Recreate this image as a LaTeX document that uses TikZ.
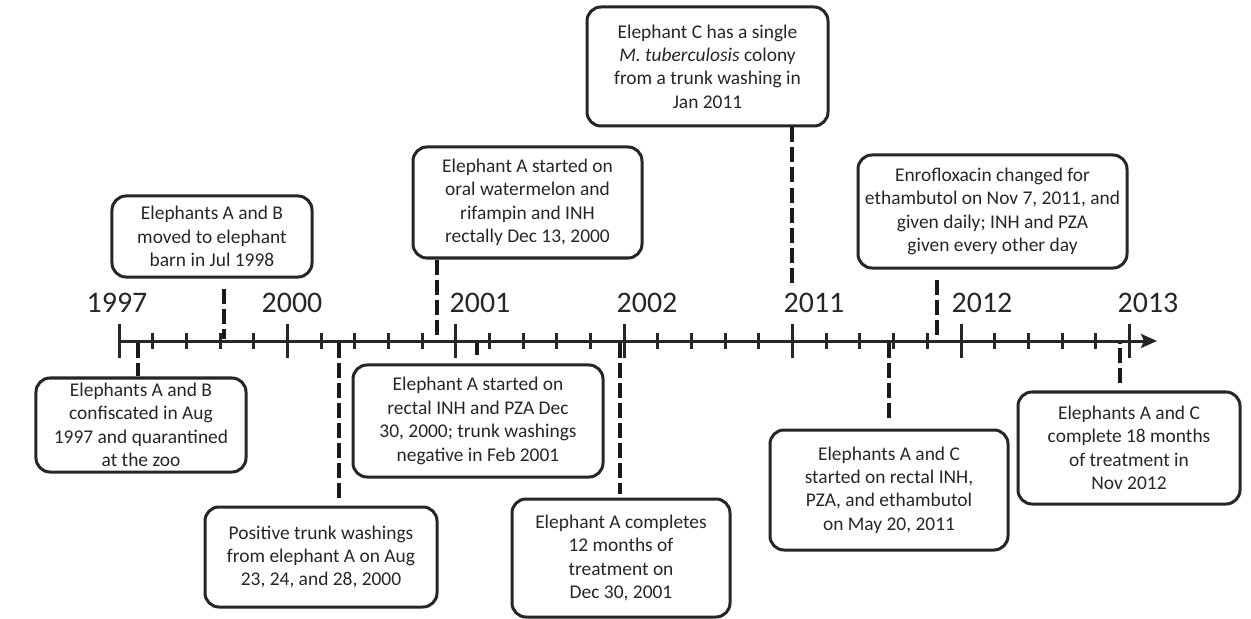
\documentclass[tikz,border=0pt]{standalone}
\usepackage{fontspec}
\setmainfont{Carlito}
\usetikzlibrary{arrows.meta,positioning}
\tikzset{
    %Define standard arrow tip
    >={Stealth[length=16bp,width=14bp,inset=3bp]},
    %Define style for event boxes
    evbox/.style={
           draw=black!85, line width=3bp,
           rounded corners=14bp,
           align=center,
           inner sep=0pt,
           text=black!85,
           font=\fontsize{19.5}{23.5}\selectfont},
    %Define style for year labels
    yearlbl/.style={
           anchor=base,
           text=black!85,
           font=\fontsize{30}{34}\selectfont},
    % Define connector style
    evline/.style={
           draw=black!90,
           line width=4.5bp,
           dash pattern=on 15bp off 5bp},
    axisline/.style={
           draw=black!85,
           line width=3bp}
}
\begin{document}
\begin{tikzpicture}[x=1bp,y=-1bp]
\useasboundingbox (0,0) rectangle (1251,619);
 %axis
\coordinate (start) at (119,341);
\coordinate (tip) at (1157,341);
\draw[axisline,->] (start) -- (tip);
\foreach \i in {0,...,30}{
  \pgfmathsetmacro{\tx}{119+\i*33.68}
  \pgfmathparse{mod(\i,5)==0 ? 1 : 0}
  \ifnum\pgfmathresult=1
    \draw[axisline] (\tx,324) -- (\tx,358);
  \else
    \draw[axisline] (\tx,333) -- (\tx,349);
  \fi
}
 %years
\node[yearlbl](y1997) at (117,313){1997};
\node[yearlbl](y2000) at (292,313){2000};
\node[yearlbl](y2001) at (480,313){2001};
\node[yearlbl](y2002) at (647,313){2002};
\node[yearlbl](y2011) at (814,313){2011};
\node[yearlbl](y2012) at (982,313){2012};
\node[yearlbl](y2013) at (1148,313){2013};
 %events on the axis
\coordinate (e1) at (138,343);
\coordinate (e2) at (224,339);
\coordinate (e3) at (339,343);
\coordinate (e4) at (437,339);
\coordinate (e5) at (477,343);
\coordinate (e6) at (620,343);
\coordinate (e7) at (792,339);
\coordinate (e8) at (889,343);
\coordinate (e9) at (937,339);
\coordinate (e10) at (1120,343);
 %boxes
\node[evbox, minimum width=210bp, minimum height=94bp](b1) at (141,425)
  {Elephants A and B\\confiscated in Aug\\1997 and quarantined\\at the zoo};
\node[evbox, minimum width=200bp, minimum height=81bp](b2) at (212,236.5)
  {Elephants A and B\\moved to elephant\\barn in Jul 1998};
\node[evbox, minimum width=232bp, minimum height=100bp](b3) at (321,557)
  {Positive trunk washings\\from elephant A on Aug\\23, 24, and 28, 2000};
\node[evbox, minimum width=229bp, minimum height=111bp](b4) at (527.5,202.5)
  {Elephant A started on\\oral watermelon and\\rifampin and INH\\rectally Dec 13, 2000};
\node[evbox, minimum width=250bp, minimum height=112bp](b5) at (478,421)
  {Elephant A started on\\rectal INH and PZA Dec\\30, 2000; trunk washings\\negative in Feb 2001};
\node[evbox, minimum width=218bp, minimum height=118bp](b6) at (621,558)
  {Elephant A completes\\12 months of\\treatment on\\Dec 30, 2001};
\node[evbox, minimum width=241bp, minimum height=119bp](b7) at (707.5,66.5)
  {Elephant C has a single\\\textit{M. tuberculosis} colony\\from a trunk washing in\\Jan 2011};
\node[evbox, minimum width=238bp, minimum height=120bp](b8) at (889,490)
  {Elephants A and C\\started on rectal INH,\\PZA, and ethambutol\\on May 20, 2011};
\node[evbox, minimum width=269bp, minimum height=113bp](b9) at (992.5,211.5)
  {Enrofloxacin changed for\\ethambutol on Nov 7, 2011, and\\given daily; INH and PZA\\given every other day};
\node[evbox, minimum width=222bp, minimum height=112bp](b10) at (1129,448)
  {Elephants A and C\\complete 18 months\\of treatment in\\Nov 2012};
 %connectors (yshift is upward on the page)
\path[evline]
    (e1) -- (b1.north -| e1)
    ([yshift=-10bp]b2.south -| e2) -- (e2)
    (e3) -- ([yshift=4bp]b3.north -| e3)
    (b4.south -| e4) -- (e4)
    (e5) -- ([yshift=8bp]b5.north -| e5)
    (e6) -- ([yshift=4bp]b6.north -| e6)
    (b7.south -| e7) -- ([yshift=54bp]e7)
    (e8) -- ([yshift=10bp]b8.north -| e8)
    ([yshift=-10bp]b9.south -| e9) -- (e9)
    ([yshift=7bp]b10.north -| e10) -- (e10);
\end{tikzpicture}
\end{document}
